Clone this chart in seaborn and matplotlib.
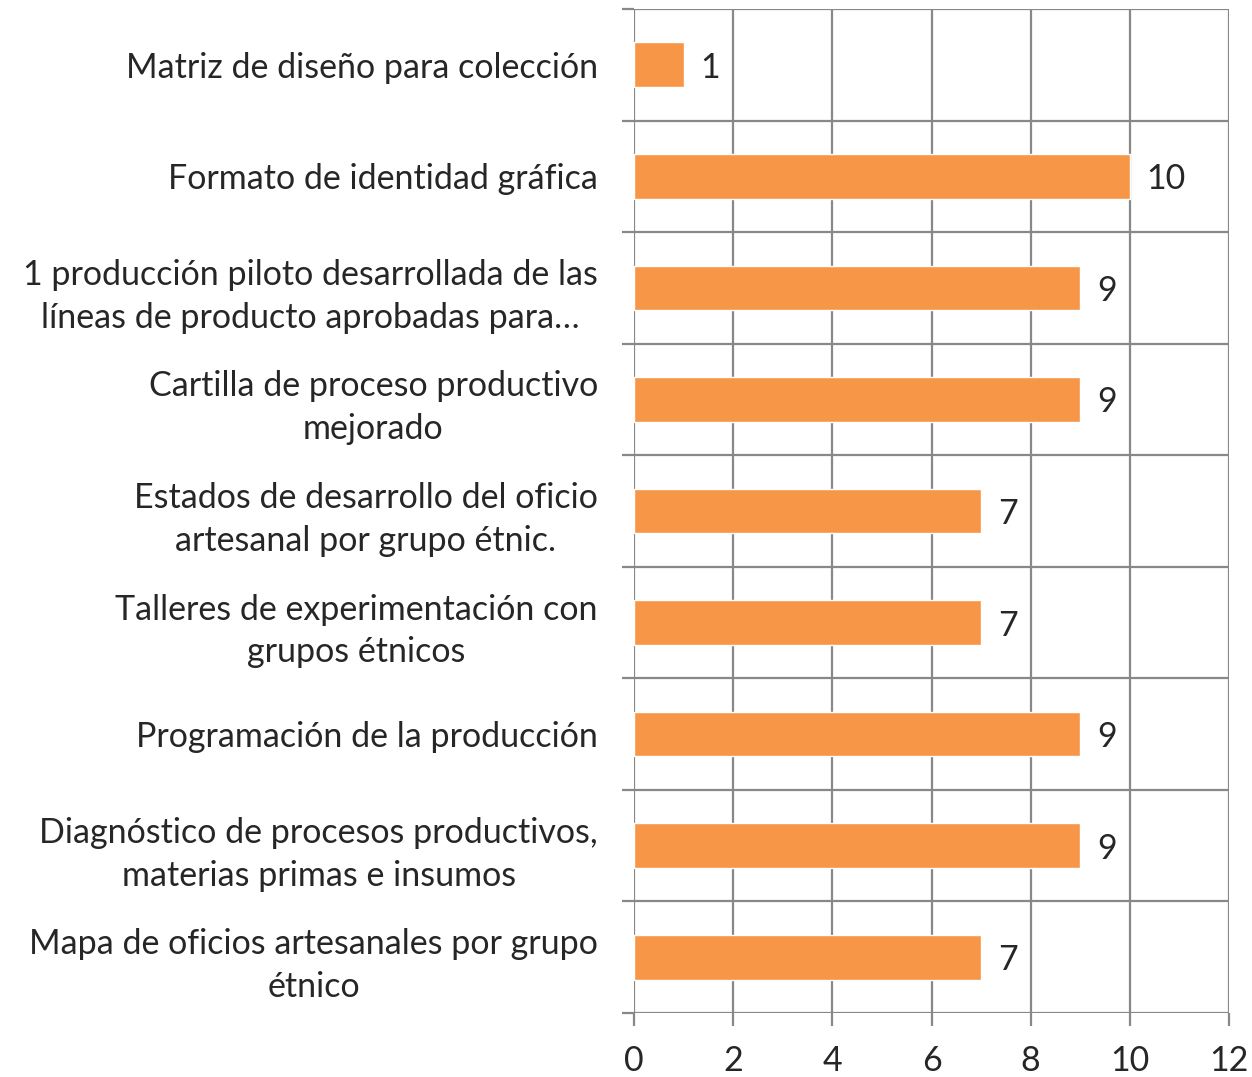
import matplotlib
matplotlib.use("Agg")
import matplotlib.pyplot as plt
import seaborn as sns
import pandas as pd
import numpy as np

categories = [
    "Matriz de diseño para colección",
    "Formato de identidad gráfica",
    "1 producción piloto desarrollada de las\nlíneas de producto aprobadas para…",
    "Cartilla de proceso productivo\nmejorado",
    "Estados de desarrollo del oficio\nartesanal por grupo étnic.",
    "Talleres de experimentación con\ngrupos étnicos",
    "Programación de la producción",
    "Diagnóstico de procesos productivos,\nmaterias primas e insumos",
    "Mapa de oficios artesanales por grupo\nétnico",
]
values = [1, 10, 9, 9, 7, 7, 9, 9, 7]
x_ticks = [0, 2, 4, 6, 8, 10, 12]

sns.set_theme(style="white")
plt.rcParams['font.family'] = ['Lato', 'DejaVu Sans']

df = pd.DataFrame({"cat": categories, "val": values})

fig = plt.figure(figsize=(12.52, 10.77), dpi=100)
ax = fig.add_axes([634/1252, 1-1013/1077, (1229-634)/1252, (1013-9)/1077])

sns.barplot(data=df, x="val", y="cat", orient="h", color="#F79646",
            width=0.4, saturation=1, ax=ax)

ax.set_xlim(0, 12)
ax.set_ylim(len(categories)-0.5, -0.5)
ax.set_xticks(x_ticks)
ax.set_xticklabels([str(t) for t in x_ticks], fontsize=24.5)
ax.set_xlabel("")
ax.set_ylabel("")

for s in ax.spines.values():
    s.set_visible(False)

grid_color = "#888888"
ax.set_axisbelow(True)
ax.xaxis.grid(True, color=grid_color, linewidth=1.6)
ax.set_yticks(np.arange(-0.5, len(categories), 1.0), minor=True)
ax.yaxis.grid(True, which="minor", color=grid_color, linewidth=1.6)
ax.yaxis.grid(False, which="major")
ax.tick_params(axis="y", which="minor", length=9, width=1.6, color=grid_color, left=True)
ax.tick_params(axis="y", which="major", length=0, pad=26, labelsize=24.5)
ax.tick_params(axis="x", which="major", length=9, width=1.6, color=grid_color, bottom=True, pad=14)
for lbl in ax.get_yticklabels():
    lbl.set_multialignment("center")
    lbl.set_linespacing(1.42)

for c in ax.containers:
    txts = ax.bar_label(c, labels=[str(v) for v in values], padding=12, fontsize=24.5)
    for t in txts:
        t.set_va("center_baseline")

fig.savefig("out.png", dpi=100)
